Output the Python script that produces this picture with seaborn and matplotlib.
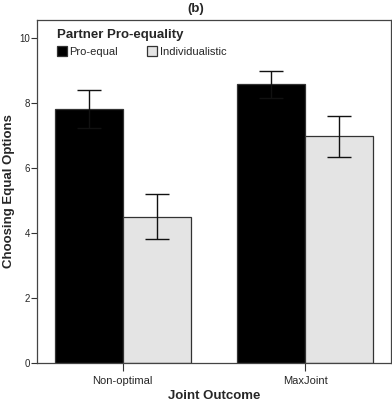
import matplotlib
matplotlib.use("Agg")
import matplotlib.pyplot as plt
import seaborn as sns
import pandas as pd
import numpy as np

outcomes = ["Non-optimal", "MaxJoint"]
partners = ["Pro-equal", "Individualistic"]
means_pro = [7.82, 8.57]
means_ind = [4.50, 6.97]
err_pro = [0.59, 0.41]
err_ind = [0.69, 0.64]
yticks = [0, 2, 4, 6, 8, 10]

sns.set_theme(style="white")
plt.rcParams['font.family'] = ['Liberation Sans', 'DejaVu Sans']

df = pd.DataFrame({
    "Joint Outcome": outcomes * 2,
    "Partner": [partners[0]] * 2 + [partners[1]] * 2,
    "mean": means_pro + means_ind,
    "err": err_pro + err_ind,
})

fig = plt.figure(figsize=(3.92, 4.04), dpi=100)
ax = fig.add_axes([37/392, 41/404, 354/392, 343/404])

sns.barplot(data=df, x="Joint Outcome", y="mean", hue="Partner",
            order=outcomes, hue_order=partners,
            palette=["#000000", "#e4e4e4"], width=0.745, errorbar=None,
            edgecolor="#333333", linewidth=0.9, ax=ax, saturation=1)

# error bars positioned at bar centers
for bars, errs in zip(ax.containers, [err_pro, err_ind]):
    for bar, e in zip(bars, errs):
        xc = bar.get_x() + bar.get_width() / 2
        h = bar.get_height()
        ax.errorbar(xc, h, yerr=e, color="#111111", capsize=8.5,
                    elinewidth=1.0, capthick=1.0, zorder=5)

ax.set_xlim(-0.47, 1.47)
ax.set_ylim(0, 10.55)
ax.set_yticks(yticks)
ax.set_yticklabels([str(t) for t in yticks], fontsize=7)
ax.tick_params(axis="y", length=4, width=0.8, color="#333333", pad=1, left=True)
ax.tick_params(axis="x", length=6, width=0.8, color="#333333", pad=3, bottom=True, labelsize=8)
for s in ax.spines.values():
    s.set_color("#444444")
    s.set_linewidth(0.9)

ax.set_xlabel("Joint Outcome", fontsize=9.5, fontweight="bold", labelpad=3)
ax.set_ylabel("Choosing Equal Options", fontsize=9.5, fontweight="bold", labelpad=3)
fig.text(0.5, 0.993, "(b)", ha="center", va="top", fontsize=9.5, fontweight="bold")

leg = ax.legend(title="Partner Pro-equality", loc="upper left",
                bbox_to_anchor=(0.03, 1.0), ncol=2, frameon=False,
                fontsize=8, title_fontsize=9.5, handlelength=0.9,
                handleheight=0.9, handletextpad=0.2, columnspacing=2.7,
                borderaxespad=0.4)
leg.get_title().set_fontweight("bold")
leg._legend_box.align = "left"
for h in leg.legend_handles:
    h.set_edgecolor("#333333")

fig.savefig("out.png", dpi=100)
